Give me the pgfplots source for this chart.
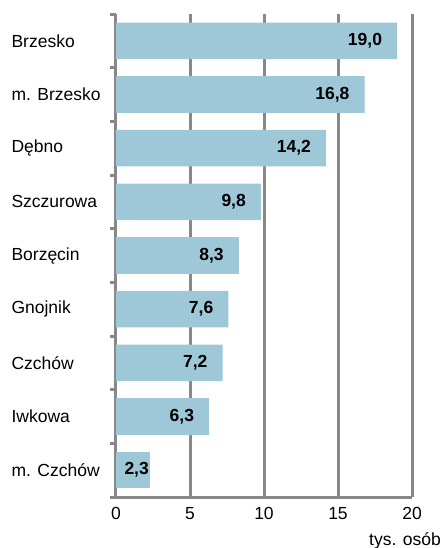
\documentclass[border=0pt]{standalone}
\usepackage{pgfplots}
\pgfplotsset{compat=1.18}
\usepackage{fontspec}
\setmainfont{Liberation Sans}
\definecolor{barc}{RGB}{158,200,216}
\definecolor{gridc}{RGB}{136,136,136}
\begin{document}
\begin{tikzpicture}
\path[use as bounding box] (-116pt,-51pt) rectangle (326pt,497pt);
\begin{axis}[
  at={(0,0)}, anchor=south west,
  scale only axis, width=296pt, height=483pt,
  font=\fontsize{17.5}{20}\selectfont,
  xbar, bar width=36.6pt, bar shift=0pt,
  xmin=0, xmax=20, ymin=-0.5, ymax=8.5, y dir=reverse,
  axis x line=bottom, axis y line=left,
  axis line style={-, draw=gridc, line width=3pt},
  xtick={0,5,10,15,20},
  xmajorgrids, major grid style={draw=gridc, line width=3pt},
  major x tick style={draw=none},
  ytick={0,...,8},
  yticklabels={Brzesko,m. Brzesko,Dębno,Szczurowa,Borzęcin,Gnojnik,Czchów,Iwkowa,m. Czchów},
  major y tick style={draw=none},
  minor ytick={-0.5,0.5,...,8.5},
  minor tick length=6pt,
  minor y tick style={draw=gridc, line width=3pt},
  tick align=outside,
  major tick length=0pt,
  yticklabel style={anchor=west, xshift=-108pt},
  xticklabel style={yshift=-7pt},
  /pgf/number format/assume math mode=true,
  nodes near coords={\pgfmathprintnumber[fixed,fixed zerofill,precision=1,use comma]{\pgfplotspointmeta}},
  nodes near coords style={anchor=east, inner sep=0pt, font=\fontsize{17.5}{20}\selectfont\bfseries, text=black},
  point meta=x,
  clip=false,
]
\addplot[fill=barc, draw=none, nodes near coords style={xshift=-15pt}] coordinates {
  (19.0,0) (16.8,1) (14.2,2) (9.8,3) (8.3,4) (7.6,5) (7.2,6) (6.3,7)
};
\addplot[fill=barc, draw=none, nodes near coords style={xshift=-1pt}] coordinates {
  (2.3,8)
};
\node[anchor=north east, inner sep=0pt] at (axis cs:20,8.5) [xshift=29pt, yshift=-35pt] {tys. osób};
\end{axis}
\end{tikzpicture}
\end{document}
